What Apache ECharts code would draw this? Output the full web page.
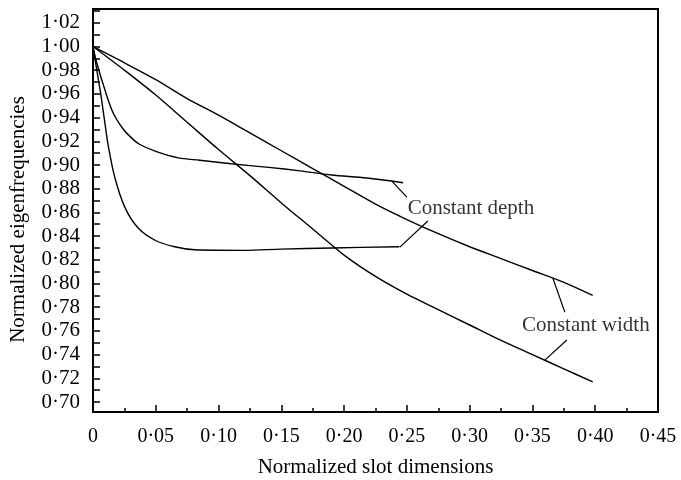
<!DOCTYPE html>
<html>
<head>
<meta charset="utf-8">
<script src="https://cdn.jsdelivr.net/npm/echarts@6/dist/echarts.min.js"></script>
<style>html,body{margin:0;padding:0;background:#fff}#c{width:681px;height:480px}</style>
</head>
<body>
<div id="c"></div>
<script>
// Constant width (upper and lower curves)
const widthUpper = [[0,1.000],[0.02,0.989],[0.05,0.972],[0.075,0.956],[0.10,0.942],[0.125,0.927],[0.15,0.912],[0.175,0.897],[0.20,0.882],[0.225,0.867],[0.25,0.854],[0.275,0.842],[0.30,0.831],[0.325,0.821],[0.35,0.811],[0.375,0.801],[0.398,0.790]];
const widthLower = [[0,1.000],[0.025,0.980],[0.05,0.959],[0.075,0.936],[0.10,0.913],[0.125,0.891],[0.15,0.868],[0.175,0.846],[0.20,0.824],[0.225,0.806],[0.25,0.791],[0.275,0.778],[0.30,0.765],[0.325,0.752],[0.35,0.740],[0.375,0.728],[0.398,0.717]];
// Constant depth (upper and lower curves)
const depthUpper = [[0,1.000],[0.003,0.986],[0.0096,0.963],[0.016,0.944],[0.0235,0.931],[0.030,0.9235],[0.037,0.9175],[0.05,0.9115],[0.068,0.906],[0.085,0.904],[0.11,0.901],[0.14,0.898],[0.165,0.895],[0.19,0.8915],[0.218,0.889],[0.247,0.885]];
const depthLower = [[0,1.000],[0.0016,0.989],[0.006,0.961],[0.009,0.939],[0.012,0.917],[0.0175,0.889],[0.0255,0.864],[0.0358,0.847],[0.0494,0.8365],[0.065,0.831],[0.081,0.8285],[0.12,0.828],[0.15,0.829],[0.19,0.830],[0.244,0.831]];
// Annotation pointers and labels
const pointerDepthA = [[0.238,0.8864],[0.250,0.8729]];
const pointerDepthB = [[0.2444,0.8307],[0.2667,0.8527]];
const pointerWidthA = [[0.3662,0.8046],[0.3758,0.7759]];
const pointerWidthB = [[0.3599,0.7354],[0.3774,0.7523]];
const labelTexts = ['Constant depth','Constant width'];
const labelPos = [[0.301,0.8636],[0.3925,0.7649]];
// Tick values
const xTickValues = [0,0.05,0.10,0.15,0.20,0.25,0.30,0.35,0.40,0.45];
const yLabelValues = [0.70,0.72,0.74,0.76,0.78,0.80,0.82,0.84,0.86,0.88,0.90,0.92,0.94,0.96,0.98,1.00,1.02];
const yTickValues = [0.70,0.71,0.72,0.73,0.74,0.75,0.76,0.77,0.78,0.79,0.80,0.81,0.82,0.83,0.84,0.85,0.86,0.87,0.88,0.89,0.90,0.91,0.92,0.93,0.94,0.95,0.96,0.97,0.98,0.99,1.00,1.01,1.02,1.03];

const FONT = '"Liberation Serif","DejaVu Serif",serif';
function fmt(v, d){ if (Math.abs(v) < 1e-9) return '0'; return v.toFixed(d).replace('.', '\u00B7'); }

const lineStyle = {color:'#000', width:1.4};
function curve(data){ return {type:'line', data:data, showSymbol:false, symbol:'none', smooth:0.3, lineStyle:lineStyle, silent:true}; }
function pointer(data){ return {type:'line', data:data, showSymbol:false, symbol:'none', lineStyle:{color:'#000', width:1.2}, silent:true}; }

const chart = echarts.init(document.getElementById('c'), null, {renderer:'canvas'});
chart.setOption({
  animation:false,
  backgroundColor:'#fff',
  grid:{left:93, right:23, top:9, bottom:68, containLabel:false, outerBoundsMode:'none', show:true, borderColor:'#000', borderWidth:2, backgroundColor:'transparent'},
  xAxis:{
    type:'value', min:0, max:0.45, interval:0.05,
    name:'Normalized slot dimensions', nameLocation:'middle', nameGap:45,
    nameTextStyle:{fontFamily:FONT, fontSize:21, color:'#000'},
    axisLine:{show:true, lineStyle:{color:'#000', width:2}},
    axisTick:{show:true, inside:true, length:7, lineStyle:{color:'#000', width:1.5}},
    minorTick:{show:true, splitNumber:2, length:4, lineStyle:{color:'#000', width:1.5}},
    splitLine:{show:false},
    axisLabel:{fontFamily:FONT, fontSize:20, color:'#000', margin:15, customValues:xTickValues, formatter:function(v){return fmt(v,2);}}
  },
  yAxis:{
    type:'value', min:0.6916, max:1.0316,
    name:'Normalized eigenfrequencies', nameLocation:'middle', nameGap:64,
    nameTextStyle:{fontFamily:FONT, fontSize:21, color:'#000', padding:[0,18,0,0]},
    axisLine:{show:true, lineStyle:{color:'#000', width:2}},
    axisTick:{show:true, inside:true, length:7, customValues:yTickValues, lineStyle:{color:'#000', width:1.5}},
    splitLine:{show:false},
    axisLabel:{fontFamily:FONT, fontSize:21, color:'#000', margin:13, customValues:yLabelValues, formatter:function(v){return fmt(v,2);}}
  },
  series:[
    curve(widthUpper), curve(widthLower), curve(depthUpper), curve(depthLower),
    pointer(pointerDepthA), pointer(pointerDepthB), pointer(pointerWidthA), pointer(pointerWidthB),
    {type:'scatter', symbolSize:0, silent:true,
     data:labelPos.map(function(p,i){return {value:p, name:labelTexts[i]};}),
     label:{show:true, position:'inside', formatter:function(p){return p.name;}, fontFamily:FONT, fontSize:21, color:'#000'}}
  ]
});
</script>
</body>
</html>
